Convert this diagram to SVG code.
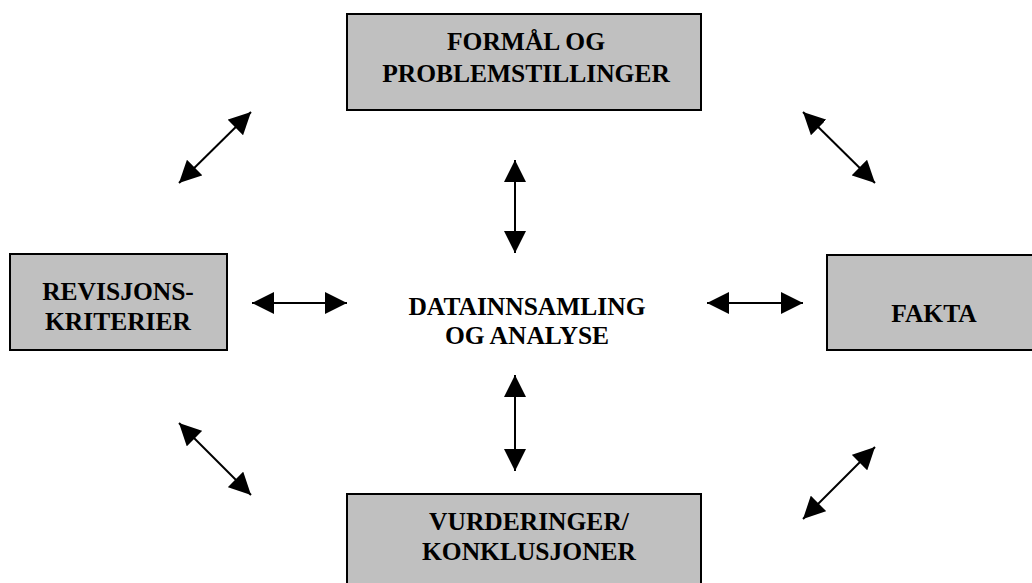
<svg xmlns="http://www.w3.org/2000/svg" width="1032" height="583" viewBox="0 0 1032 583">
<style>
.box{fill:#c0c0c0;stroke:#000;stroke-width:2}
.t{font-family:"Liberation Serif","Times New Roman",serif;font-weight:bold;font-size:25.5px;fill:#000;text-anchor:middle}
.c{stroke:#000;stroke-width:2;fill:none;marker-start:url(#ah);marker-end:url(#ah)}
</style>
<defs>
<marker id="ah" markerUnits="userSpaceOnUse" markerWidth="22" markerHeight="22" viewBox="0 0 20 20" refX="20" refY="10" orient="auto-start-reverse">
<path d="M0,0 L20,10 L0,20 Z" fill="#000"/>
</marker>
</defs>
<rect width="1032" height="583" fill="#fff"/>
<g id="formal">
<rect class="box" x="347" y="14" width="354" height="96"/>
<text class="t" x="526" y="50">FORMÅL OG</text>
<text class="t" x="526" y="82">PROBLEMSTILLINGER</text>
</g>
<g id="revisjon">
<rect class="box" x="10" y="254" width="217" height="96"/>
<text class="t" x="118" y="300">REVISJONS-</text>
<text class="t" x="118" y="330">KRITERIER</text>
</g>
<g id="fakta">
<rect class="box" x="827" y="255" width="215" height="95"/>
<text class="t" x="934" y="322">FAKTA</text>
</g>
<g id="vurderinger">
<rect class="box" x="347" y="494" width="354" height="100"/>
<text class="t" x="529" y="530">VURDERINGER/</text>
<text class="t" x="529" y="560">KONKLUSJONER</text>
</g>
<g id="datainnsamling">
<text class="t" x="527" y="315">DATAINNSAMLING</text>
<text class="t" x="527" y="344">OG ANALYSE</text>
</g>
<g id="connectors">
<line class="c" x1="179" y1="183" x2="251" y2="112"/>
<line class="c" x1="803" y1="112" x2="875" y2="183"/>
<line class="c" x1="179" y1="423" x2="251" y2="495"/>
<line class="c" x1="803" y1="519" x2="875" y2="447"/>
<line class="c" x1="252" y1="303" x2="347" y2="303"/>
<line class="c" x1="707" y1="303" x2="803" y2="303"/>
<line class="c" x1="515" y1="160" x2="515" y2="253"/>
<line class="c" x1="515" y1="375" x2="515" y2="471"/>
</g>
</svg>
